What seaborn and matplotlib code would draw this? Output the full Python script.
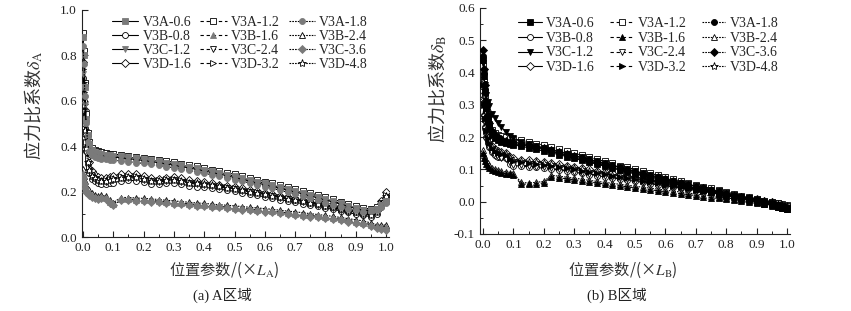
import pandas as pd
import matplotlib
matplotlib.use("Agg")
from matplotlib import pyplot as plt
from matplotlib.ticker import MultipleLocator, FormatStrFormatter
import seaborn as sns

# position along the region (x L)
x_pos = [0.0, 0.003, 0.006, 0.01, 0.015, 0.02, 0.03, 0.04, 0.05, 0.06, 0.075, 0.09, 0.1,
         0.125, 0.15, 0.175, 0.2, 0.225, 0.25, 0.275, 0.3, 0.325, 0.35, 0.375, 0.4,
         0.425, 0.45, 0.475, 0.5, 0.525, 0.55, 0.575, 0.6, 0.625, 0.65, 0.675, 0.7,
         0.725, 0.75, 0.775, 0.8, 0.825, 0.85, 0.875, 0.9, 0.925, 0.95, 0.97, 0.985, 1.0]

# ---- region A ----
a_v3a_06 = [0.88, 0.80, 0.66, 0.52, 0.45, 0.41, 0.385, 0.375, 0.37, 0.366, 0.363, 0.36, 0.358,
            0.355, 0.351, 0.347, 0.343, 0.338, 0.333, 0.328, 0.322, 0.316, 0.31, 0.303, 0.296,
            0.289, 0.282, 0.275, 0.268, 0.26, 0.252, 0.244, 0.236, 0.228, 0.22, 0.212, 0.204,
            0.195, 0.186, 0.177, 0.168, 0.158, 0.148, 0.138, 0.128, 0.12, 0.118, 0.125, 0.14, 0.16]
a_v3a_12 = [0.90, 0.82, 0.68, 0.54, 0.46, 0.42, 0.392, 0.382, 0.377, 0.373, 0.37, 0.367, 0.365,
            0.362, 0.358, 0.354, 0.35, 0.345, 0.34, 0.335, 0.329, 0.323, 0.317, 0.311, 0.304,
            0.297, 0.29, 0.283, 0.276, 0.268, 0.26, 0.252, 0.244, 0.236, 0.228, 0.22, 0.212,
            0.203, 0.194, 0.185, 0.176, 0.166, 0.156, 0.146, 0.136, 0.127, 0.124, 0.132, 0.148, 0.168]
a_v3a_18 = [0.84, 0.76, 0.62, 0.50, 0.42, 0.38, 0.36, 0.352, 0.348, 0.345, 0.342, 0.34, 0.338,
            0.335, 0.332, 0.328, 0.324, 0.32, 0.315, 0.31, 0.305, 0.299, 0.293, 0.287, 0.281,
            0.274, 0.267, 0.26, 0.253, 0.246, 0.238, 0.23, 0.222, 0.214, 0.206, 0.197, 0.188,
            0.179, 0.17, 0.161, 0.152, 0.143, 0.134, 0.125, 0.117, 0.112, 0.113, 0.12, 0.13, 0.15]
a_v3b_08 = [0.70, 0.60, 0.48, 0.38, 0.32, 0.28, 0.255, 0.245, 0.238, 0.235, 0.234, 0.237, 0.24,
            0.246, 0.25, 0.248, 0.242, 0.235, 0.232, 0.236, 0.238, 0.233, 0.226, 0.222, 0.219,
            0.215, 0.211, 0.206, 0.201, 0.195, 0.189, 0.183, 0.177, 0.171, 0.165, 0.159, 0.153,
            0.147, 0.141, 0.135, 0.128, 0.122, 0.115, 0.108, 0.101, 0.095, 0.09, 0.1, 0.13, 0.17]
a_v3b_16 = [0.28, 0.25, 0.225, 0.21, 0.2, 0.195, 0.183, 0.176, 0.172, 0.176, 0.172, 0.155, 0.146,
            0.167, 0.167, 0.165, 0.163, 0.161, 0.158, 0.155, 0.152, 0.149, 0.146, 0.143, 0.141,
            0.138, 0.135, 0.132, 0.129, 0.126, 0.123, 0.12, 0.117, 0.114, 0.11, 0.106, 0.103,
            0.099, 0.095, 0.091, 0.087, 0.083, 0.078, 0.073, 0.068, 0.063, 0.055, 0.048, 0.045, 0.045]
a_v3b_24 = [0.30, 0.27, 0.245, 0.225, 0.212, 0.205, 0.192, 0.184, 0.179, 0.183, 0.18, 0.162, 0.152,
            0.174, 0.174, 0.172, 0.17, 0.168, 0.165, 0.162, 0.159, 0.156, 0.153, 0.15, 0.148,
            0.145, 0.142, 0.14, 0.137, 0.134, 0.131, 0.128, 0.125, 0.122, 0.118, 0.114, 0.111,
            0.107, 0.103, 0.099, 0.095, 0.091, 0.086, 0.081, 0.076, 0.071, 0.062, 0.054, 0.052, 0.053]
a_v3c_12 = [0.72, 0.66, 0.58, 0.50, 0.44, 0.40, 0.375, 0.368, 0.364, 0.36, 0.357, 0.354, 0.352,
            0.349, 0.345, 0.341, 0.337, 0.332, 0.327, 0.322, 0.316, 0.31, 0.304, 0.298, 0.291,
            0.284, 0.277, 0.27, 0.262, 0.254, 0.246, 0.238, 0.23, 0.222, 0.214, 0.206, 0.198,
            0.19, 0.181, 0.172, 0.163, 0.154, 0.145, 0.135, 0.125, 0.118, 0.116, 0.122, 0.135, 0.155]
a_v3c_24 = [0.62, 0.55, 0.45, 0.37, 0.32, 0.29, 0.265, 0.255, 0.248, 0.245, 0.244, 0.247, 0.252,
            0.258, 0.262, 0.259, 0.252, 0.245, 0.242, 0.247, 0.249, 0.244, 0.237, 0.233, 0.229,
            0.225, 0.22, 0.215, 0.21, 0.204, 0.198, 0.192, 0.186, 0.18, 0.174, 0.167, 0.161,
            0.155, 0.149, 0.142, 0.135, 0.128, 0.121, 0.114, 0.108, 0.102, 0.097, 0.11, 0.14, 0.175]
a_v3c_36 = [0.26, 0.235, 0.215, 0.2, 0.192, 0.186, 0.176, 0.17, 0.167, 0.17, 0.167, 0.15, 0.142,
            0.162, 0.162, 0.16, 0.158, 0.156, 0.153, 0.15, 0.147, 0.144, 0.141, 0.138, 0.136,
            0.133, 0.13, 0.127, 0.124, 0.121, 0.118, 0.115, 0.112, 0.109, 0.105, 0.101, 0.098,
            0.094, 0.09, 0.086, 0.082, 0.078, 0.073, 0.068, 0.063, 0.058, 0.05, 0.04, 0.034, 0.03]
a_v3d_16 = [0.77, 0.68, 0.56, 0.45, 0.38, 0.33, 0.29, 0.275, 0.265, 0.26, 0.258, 0.265, 0.27,
            0.276, 0.279, 0.276, 0.268, 0.26, 0.257, 0.262, 0.264, 0.258, 0.25, 0.246, 0.243,
            0.236, 0.231, 0.226, 0.22, 0.214, 0.208, 0.202, 0.195, 0.189, 0.182, 0.176, 0.169,
            0.163, 0.156, 0.149, 0.142, 0.135, 0.128, 0.121, 0.115, 0.109, 0.104, 0.12, 0.16, 0.2]
a_v3d_32 = [0.74, 0.64, 0.52, 0.42, 0.35, 0.31, 0.28, 0.265, 0.256, 0.252, 0.25, 0.255, 0.26,
            0.267, 0.27, 0.267, 0.26, 0.252, 0.249, 0.254, 0.256, 0.25, 0.243, 0.239, 0.235,
            0.231, 0.226, 0.22, 0.215, 0.209, 0.203, 0.197, 0.19, 0.184, 0.178, 0.171, 0.165,
            0.159, 0.152, 0.145, 0.138, 0.131, 0.124, 0.117, 0.111, 0.105, 0.1, 0.115, 0.15, 0.185]
a_v3d_48 = [0.68, 0.58, 0.47, 0.39, 0.33, 0.295, 0.27, 0.26, 0.252, 0.248, 0.246, 0.25, 0.256,
            0.262, 0.266, 0.263, 0.256, 0.248, 0.245, 0.25, 0.252, 0.247, 0.24, 0.236, 0.232,
            0.228, 0.223, 0.218, 0.212, 0.206, 0.2, 0.194, 0.188, 0.182, 0.176, 0.169, 0.163,
            0.157, 0.15, 0.144, 0.137, 0.13, 0.123, 0.116, 0.11, 0.103, 0.098, 0.112, 0.145, 0.18]

# ---- region B ----
b_v3a_06 = [0.44, 0.39, 0.34, 0.29, 0.255, 0.232, 0.21, 0.198, 0.19, 0.185, 0.181, 0.178, 0.176,
            0.172, 0.167, 0.162, 0.157, 0.151, 0.146, 0.14, 0.134, 0.128, 0.122, 0.116, 0.11,
            0.104, 0.098, 0.092, 0.086, 0.08, 0.074, 0.068, 0.062, 0.057, 0.051, 0.046, 0.04,
            0.035, 0.029, 0.024, 0.019, 0.014, 0.009, 0.004, -0.001, -0.006, -0.011, -0.016, -0.02, -0.024]
b_v3a_12 = [0.42, 0.37, 0.33, 0.29, 0.26, 0.24, 0.222, 0.212, 0.207, 0.203, 0.2, 0.197, 0.195,
            0.19, 0.185, 0.18, 0.175, 0.169, 0.163, 0.157, 0.15, 0.144, 0.138, 0.131, 0.125,
            0.119, 0.112, 0.106, 0.1, 0.094, 0.088, 0.082, 0.076, 0.07, 0.064, 0.058, 0.052,
            0.047, 0.041, 0.036, 0.03, 0.025, 0.019, 0.014, 0.008, 0.003, -0.002, -0.005, -0.008, -0.01]
b_v3a_18 = [0.45, 0.40, 0.35, 0.30, 0.262, 0.238, 0.215, 0.203, 0.195, 0.19, 0.186, 0.183, 0.181,
            0.177, 0.172, 0.167, 0.162, 0.156, 0.15, 0.144, 0.138, 0.132, 0.126, 0.12, 0.114,
            0.108, 0.102, 0.096, 0.09, 0.084, 0.078, 0.072, 0.066, 0.06, 0.055, 0.049, 0.044,
            0.038, 0.033, 0.028, 0.022, 0.017, 0.012, 0.007, 0.002, -0.003, -0.008, -0.013, -0.017, -0.021]
b_v3b_08 = [0.33, 0.27, 0.23, 0.2, 0.182, 0.17, 0.155, 0.146, 0.14, 0.138, 0.135, 0.118, 0.112,
            0.11, 0.108, 0.106, 0.104, 0.101, 0.098, 0.095, 0.091, 0.088, 0.084, 0.081, 0.077,
            0.074, 0.07, 0.067, 0.063, 0.06, 0.056, 0.052, 0.049, 0.045, 0.042, 0.038, 0.035,
            0.031, 0.028, 0.024, 0.021, 0.017, 0.014, 0.01, 0.006, 0.003, -0.001, -0.005, -0.009, -0.013]
b_v3b_16 = [0.15, 0.135, 0.125, 0.118, 0.111, 0.105, 0.098, 0.094, 0.091, 0.089, 0.087, 0.085, 0.083,
            0.055, 0.054, 0.056, 0.058, 0.077, 0.074, 0.071, 0.068, 0.065, 0.061, 0.058, 0.055,
            0.052, 0.049, 0.046, 0.043, 0.04, 0.037, 0.034, 0.031, 0.028, 0.025, 0.022, 0.019,
            0.016, 0.013, 0.01, 0.007, 0.004, 0.001, -0.002, -0.005, -0.008, -0.012, -0.016, -0.019, -0.022]
b_v3b_24 = [0.16, 0.145, 0.135, 0.127, 0.12, 0.113, 0.105, 0.1, 0.097, 0.095, 0.093, 0.09, 0.088,
            0.06, 0.058, 0.06, 0.063, 0.082, 0.079, 0.076, 0.073, 0.07, 0.066, 0.063, 0.06,
            0.057, 0.054, 0.051, 0.048, 0.045, 0.042, 0.039, 0.036, 0.033, 0.03, 0.027, 0.024,
            0.021, 0.018, 0.015, 0.012, 0.009, 0.006, 0.003, 0.0, -0.003, -0.007, -0.011, -0.014, -0.017]
b_v3c_12 = [0.43, 0.40, 0.36, 0.33, 0.31, 0.295, 0.272, 0.258, 0.245, 0.232, 0.216, 0.203, 0.196,
            0.186, 0.179, 0.173, 0.167, 0.161, 0.155, 0.149, 0.143, 0.137, 0.131, 0.125, 0.119,
            0.113, 0.107, 0.101, 0.095, 0.089, 0.083, 0.077, 0.071, 0.065, 0.059, 0.054, 0.048,
            0.043, 0.037, 0.032, 0.026, 0.021, 0.016, 0.011, 0.005, 0.0, -0.005, -0.01, -0.014, -0.018]
b_v3c_24 = [0.30, 0.25, 0.215, 0.19, 0.175, 0.165, 0.15, 0.142, 0.137, 0.135, 0.132, 0.12, 0.115,
            0.113, 0.111, 0.109, 0.106, 0.103, 0.1, 0.097, 0.093, 0.09, 0.086, 0.083, 0.079,
            0.076, 0.072, 0.069, 0.065, 0.062, 0.058, 0.054, 0.051, 0.047, 0.043, 0.04, 0.036,
            0.033, 0.029, 0.026, 0.022, 0.018, 0.015, 0.011, 0.007, 0.003, -0.001, -0.005, -0.009, -0.013]
b_v3c_36 = [0.47, 0.41, 0.36, 0.31, 0.27, 0.245, 0.22, 0.207, 0.199, 0.193, 0.189, 0.186, 0.184,
            0.18, 0.175, 0.17, 0.165, 0.159, 0.153, 0.147, 0.141, 0.135, 0.129, 0.123, 0.117,
            0.111, 0.105, 0.099, 0.093, 0.087, 0.081, 0.075, 0.069, 0.063, 0.057, 0.052, 0.046,
            0.041, 0.035, 0.03, 0.024, 0.019, 0.014, 0.009, 0.004, -0.001, -0.006, -0.011, -0.015, -0.019]
b_v3d_16 = [0.38, 0.32, 0.27, 0.23, 0.205, 0.19, 0.172, 0.162, 0.156, 0.153, 0.15, 0.14, 0.134,
            0.13, 0.128, 0.126, 0.123, 0.12, 0.116, 0.112, 0.108, 0.104, 0.1, 0.096, 0.092,
            0.088, 0.084, 0.08, 0.076, 0.071, 0.067, 0.063, 0.058, 0.054, 0.05, 0.045, 0.041,
            0.037, 0.033, 0.028, 0.024, 0.02, 0.016, 0.011, 0.007, 0.003, -0.002, -0.006, -0.009, -0.012]
b_v3d_32 = [0.36, 0.30, 0.255, 0.22, 0.197, 0.183, 0.166, 0.156, 0.15, 0.147, 0.144, 0.132, 0.126,
            0.122, 0.12, 0.118, 0.115, 0.112, 0.108, 0.104, 0.1, 0.096, 0.092, 0.088, 0.085,
            0.081, 0.077, 0.073, 0.069, 0.065, 0.061, 0.057, 0.053, 0.049, 0.045, 0.041, 0.037,
            0.033, 0.029, 0.025, 0.021, 0.017, 0.013, 0.009, 0.005, 0.001, -0.003, -0.007, -0.01, -0.013]
b_v3d_48 = [0.37, 0.31, 0.262, 0.225, 0.2, 0.186, 0.169, 0.159, 0.153, 0.15, 0.147, 0.136, 0.13,
            0.126, 0.124, 0.122, 0.119, 0.116, 0.112, 0.108, 0.104, 0.1, 0.096, 0.092, 0.088,
            0.084, 0.08, 0.076, 0.072, 0.068, 0.064, 0.06, 0.056, 0.052, 0.047, 0.043, 0.039,
            0.035, 0.031, 0.027, 0.023, 0.019, 0.015, 0.01, 0.006, 0.002, -0.002, -0.006, -0.01, -0.013]

# legend order (column by column)
names = ["V3A-0.6", "V3B-0.8", "V3C-1.2", "V3D-1.6",
         "V3A-1.2", "V3B-1.6", "V3C-2.4", "V3D-3.2",
         "V3A-1.8", "V3B-2.4", "V3C-3.6", "V3D-4.8"]

series_a = dict(zip(names, [a_v3a_06, a_v3b_08, a_v3c_12, a_v3d_16,
                            a_v3a_12, a_v3b_16, a_v3c_24, a_v3d_32,
                            a_v3a_18, a_v3b_24, a_v3c_36, a_v3d_48]))
series_b = dict(zip(names, [b_v3a_06, b_v3b_08, b_v3c_12, b_v3d_16,
                            b_v3a_12, b_v3b_16, b_v3c_24, b_v3d_32,
                            b_v3a_18, b_v3b_24, b_v3c_36, b_v3d_48]))

markers = {"V3A-0.6": "s", "V3B-0.8": "o", "V3C-1.2": "v", "V3D-1.6": "D",
           "V3A-1.2": "s", "V3B-1.6": "^", "V3C-2.4": "v", "V3D-3.2": ">",
           "V3A-1.8": "o", "V3B-2.4": "^", "V3C-3.6": "D", "V3D-4.8": "*"}
msize = {"s": 4.5, "o": 4.3, "v": 5, "^": 5, ">": 5, "D": 3.8, "*": 6}
line_style = {}
for i, n in enumerate(names):
    line_style[n] = ["-", (0, (3, 2.5)), (0, (1.5, 1))][i // 4]

filled_a = ["V3A-0.6", "V3C-1.2", "V3B-1.6", "V3A-1.8", "V3C-3.6"]
filled_b = ["V3A-0.6", "V3C-1.2", "V3B-1.6", "V3D-3.2", "V3A-1.8", "V3C-3.6"]

sns.set_style("ticks")
plt.rcParams["font.family"] = ["Liberation Serif", "Noto Sans CJK SC"]
plt.rcParams["mathtext.fontset"] = "stix"
plt.rcParams["axes.unicode_minus"] = False
cjk = ["Noto Sans CJK SC"]

fig = plt.figure(figsize=(8.51, 3.11), dpi=100)
ax_a = fig.add_axes([0.0958, 0.2379, 0.3613, 0.730])
ax_b = fig.add_axes([0.564, 0.2476, 0.3643, 0.7267])


def draw(ax, series, filled, fill_color):
    df = pd.concat([pd.DataFrame({"x": x_pos, "y": series[n], "name": n}) for n in names])
    for n in names:
        sub = df[df["name"] == n]
        m = markers[n]
        if n in filled:
            face, edge, z = fill_color, fill_color, 3
        else:
            face, edge, z = "white", "black", 2
        sns.lineplot(data=sub, x="x", y="y", ax=ax, estimator=None, sort=False,
                     color="black", linestyle=line_style[n], linewidth=0.8,
                     marker=m, markersize=msize[m], markerfacecolor=face,
                     markeredgecolor=edge, markeredgewidth=0.6, legend=False, zorder=z)
    return ax.get_lines()


lines_a = draw(ax_a, series_a, filled_a, "#7a7a7a")
lines_b = draw(ax_b, series_b, filled_b, "black")

for ax in (ax_a, ax_b):
    sns.despine(ax=ax)
    ax.xaxis.set_major_locator(MultipleLocator(0.1))
    ax.xaxis.set_minor_locator(MultipleLocator(0.05))
    ax.xaxis.set_major_formatter(FormatStrFormatter("%.1f"))
    ax.yaxis.set_major_formatter(FormatStrFormatter("%.1f"))
    ax.tick_params(which="major", direction="in", length=4, width=0.8, labelsize=9.5,
                   colors="#222222")
    ax.tick_params(which="minor", direction="in", length=2, width=0.7)
    for s in ("left", "bottom"):
        ax.spines[s].set_color("#222222")
        ax.spines[s].set_linewidth(0.8)

ax_a.set_xlim(-0.005, 1.01)
ax_a.set_ylim(0, 1.0)
ax_a.yaxis.set_major_locator(MultipleLocator(0.2))
ax_a.yaxis.set_minor_locator(MultipleLocator(0.1))

ax_b.set_xlim(-0.01, 1.01)
ax_b.set_ylim(-0.1, 0.6)
ax_b.yaxis.set_major_locator(MultipleLocator(0.1))
ax_b.yaxis.set_minor_locator(MultipleLocator(0.05))

ax_a.set_ylabel("应力比系数$\\delta_{\\rm A}$", fontsize=13, color="#333333", family=cjk)
ax_a.yaxis.set_label_coords(-0.12, 0.58)
ax_a.set_xlabel("位置参数/(×$L_{\\rm A}$)", fontsize=11, color="#333333", va="center",
                family=cjk)
ax_a.xaxis.set_label_coords(0.465, -0.145)
ax_a.text(0.457, -0.255, "(a) A区域", transform=ax_a.transAxes, ha="center", va="center",
          fontsize=10.5, color="#222222")

ax_b.set_ylabel("应力比系数$\\delta_{\\rm B}$", fontsize=13, color="#333333", family=cjk)
ax_b.yaxis.set_label_coords(-0.1, 0.64)
ax_b.set_xlabel("位置参数/(×$L_{\\rm B}$)", fontsize=11, color="#333333", va="center",
                family=cjk)
ax_b.xaxis.set_label_coords(0.461, -0.157)
ax_b.text(0.442, -0.27, "(b) B区域", transform=ax_b.transAxes, ha="center", va="center",
          fontsize=10.5, color="#222222")

ax_a.legend(lines_a, names, ncol=3, loc="upper left", bbox_to_anchor=(0.099, 0.975),
            frameon=False, fontsize=10, handlelength=1.9, handletextpad=0.3,
            columnspacing=0.65, labelspacing=0.08, borderpad=0, borderaxespad=0)
ax_b.legend(lines_b, names, ncol=3, loc="upper left", bbox_to_anchor=(0.123, 0.96),
            frameon=False, fontsize=10, handlelength=1.7, handletextpad=0.3,
            columnspacing=1.1, labelspacing=0.12, borderpad=0, borderaxespad=0)

fig.savefig("out.png", dpi=100)
